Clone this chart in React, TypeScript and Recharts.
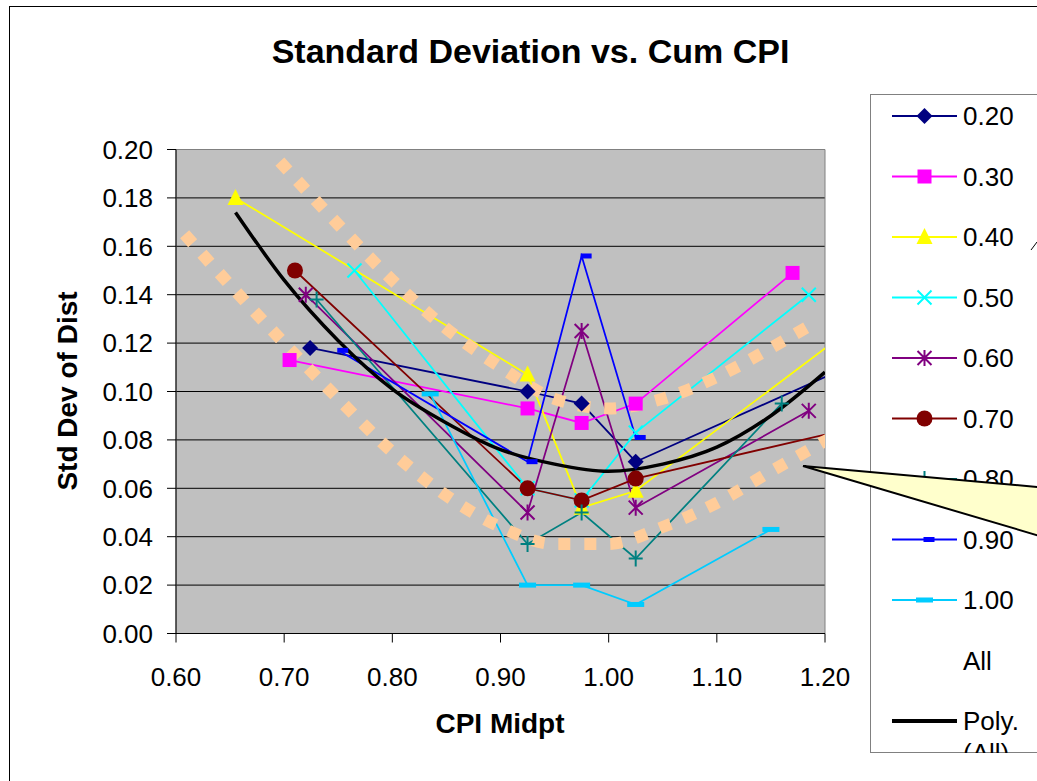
import { CartesianGrid, Line, LineChart, ReferenceArea, XAxis, YAxis } from "recharts";

type MarkerKind =
  | "diamond"
  | "square"
  | "triangle"
  | "cross"
  | "star"
  | "circle"
  | "plus"
  | "dash"
  | "longDash";

type Pt = { x: number; y: number };

const FONT = "'Liberation Sans', Arial, Helvetica, sans-serif";

const xTicks = [0.6, 0.7, 0.8, 0.9, 1.0, 1.1, 1.2];
const yTicks = [0, 0.02, 0.04, 0.06, 0.08, 0.1, 0.12, 0.14, 0.16, 0.18, 0.2];

// cum CPI bin midpoints and std dev of the distribution, one pair per threshold
const cpi020 = [0.724, 0.925, 0.975, 1.025, 1.275];
const dev020 = [0.118, 0.1, 0.095, 0.071, 0.121];

const cpi030 = [0.705, 0.925, 0.975, 1.025, 1.17];
const dev030 = [0.113, 0.093, 0.087, 0.095, 0.149];

const cpi040 = [0.655, 0.925, 0.975, 1.025, 1.275];
const dev040 = [0.18, 0.107, 0.052, 0.059, 0.143];

const cpi050 = [0.765, 0.925, 0.975, 1.025, 1.185];
const dev050 = [0.15, 0.06, 0.055, 0.083, 0.14];

const cpi060 = [0.72, 0.925, 0.975, 1.025, 1.185];
const dev060 = [0.14, 0.05, 0.125, 0.052, 0.092];

const cpi070 = [0.71, 0.925, 0.975, 1.025, 1.275];
const dev070 = [0.15, 0.06, 0.055, 0.064, 0.09];

const cpi080 = [0.73, 0.925, 0.975, 1.025, 1.16];
const dev080 = [0.138, 0.037, 0.05, 0.031, 0.095];

const cpi090 = [0.75, 0.925, 0.975, 1.025];
const dev090 = [0.117, 0.071, 0.156, 0.081];

const cpi100 = [0.835, 0.925, 0.975, 1.025, 1.15];
const dev100 = [0.099, 0.02, 0.02, 0.012, 0.043];

// polynomial trend of "All"
const trendCpi = [0.655, 0.7, 0.75, 0.8, 0.85, 0.9, 0.95, 1.0, 1.05, 1.1, 1.15, 1.2];
const trendDev = [0.174, 0.146, 0.121, 0.101, 0.087, 0.076, 0.07, 0.067, 0.07, 0.077, 0.09, 0.108];

// dotted envelope curves
const upperCpi = [0.696, 0.75, 0.8, 0.85, 0.9, 0.95, 1.0, 1.05, 1.1, 1.15, 1.185];
const upperDev = [0.195, 0.169, 0.146, 0.126, 0.11, 0.097, 0.093, 0.097, 0.106, 0.118, 0.127];

const lowerCpi = [0.608, 0.65, 0.7, 0.75, 0.8, 0.85, 0.9, 0.95, 1.0, 1.05, 1.1, 1.15, 1.21];
const lowerDev = [0.165, 0.144, 0.12, 0.097, 0.075, 0.057, 0.044, 0.037, 0.037, 0.044, 0.054, 0.067, 0.082];

const toPoints = (xs: number[], ys: number[]): Pt[] => xs.map((x, i) => ({ x, y: ys[i] }));

const series: { name: string; color: string; marker: MarkerKind; data: Pt[] }[] = [
  { name: "0.20", color: "#000080", marker: "diamond", data: toPoints(cpi020, dev020) },
  { name: "0.30", color: "#FF00FF", marker: "square", data: toPoints(cpi030, dev030) },
  { name: "0.40", color: "#FFFF00", marker: "triangle", data: toPoints(cpi040, dev040) },
  { name: "0.50", color: "#00FFFF", marker: "cross", data: toPoints(cpi050, dev050) },
  { name: "0.60", color: "#800080", marker: "star", data: toPoints(cpi060, dev060) },
  { name: "0.70", color: "#800000", marker: "circle", data: toPoints(cpi070, dev070) },
  { name: "0.80", color: "#008080", marker: "plus", data: toPoints(cpi080, dev080) },
  { name: "0.90", color: "#0000FF", marker: "dash", data: toPoints(cpi090, dev090) },
  { name: "1.00", color: "#00CCFF", marker: "longDash", data: toPoints(cpi100, dev100) },
];

function Marker({ kind, color, cx, cy }: { kind: MarkerKind; color: string; cx: number; cy: number }) {
  if (cx == null || cy == null) return null;
  switch (kind) {
    case "diamond":
      return <path d={`M${cx} ${cy - 8}L${cx + 8} ${cy}L${cx} ${cy + 8}L${cx - 8} ${cy}Z`} fill={color} />;
    case "square":
      return <rect x={cx - 7} y={cy - 7} width={14} height={14} fill={color} />;
    case "triangle":
      return <path d={`M${cx} ${cy - 9}L${cx + 8} ${cy + 7}L${cx - 8} ${cy + 7}Z`} fill={color} />;
    case "cross":
      return (
        <path
          d={`M${cx - 7} ${cy - 7}L${cx + 7} ${cy + 7}M${cx + 7} ${cy - 7}L${cx - 7} ${cy + 7}`}
          stroke={color}
          strokeWidth={2}
        />
      );
    case "star":
      return (
        <path
          d={`M${cx - 7} ${cy - 7}L${cx + 7} ${cy + 7}M${cx + 7} ${cy - 7}L${cx - 7} ${cy + 7}M${cx} ${cy - 8}L${cx} ${cy + 8}`}
          stroke={color}
          strokeWidth={2}
        />
      );
    case "circle":
      return <circle cx={cx} cy={cy} r={8} fill={color} />;
    case "plus":
      return (
        <path
          d={`M${cx - 7} ${cy}L${cx + 7} ${cy}M${cx} ${cy - 8}L${cx} ${cy + 8}`}
          stroke={color}
          strokeWidth={2}
        />
      );
    case "dash":
      return <rect x={cx - 1} y={cy - 2.5} width={11} height={5} fill={color} />;
    case "longDash":
      return <rect x={cx - 8.5} y={cy - 2.5} width={17} height={5} fill={color} />;
  }
}

const tickStyle = { fontSize: 26, fill: "#000", fontFamily: FONT };

function LegendBox() {
  const rowY = (i: number) => 22 + i * 60.5;
  return (
    <svg
      width={220}
      height={659}
      style={{ position: "absolute", left: 870, top: 94 }}
      fontFamily={FONT}
    >
      <rect x={0.5} y={0.5} width={260} height={658} fill="#fff" stroke="#808080" />
      {series.map((s, i) => (
        <g key={s.name}>
          <line x1={22} x2={87} y1={rowY(i)} y2={rowY(i)} stroke={s.color} strokeWidth={2} />
          <Marker kind={s.marker} color={s.color} cx={54.5} cy={rowY(i)} />
          <text x={93} y={rowY(i) + 9.3} fontSize={26}>
            {s.name}
          </text>
        </g>
      ))}
      <text x={93} y={rowY(9) + 9.3} fontSize={26}>
        All
      </text>
      <line x1={22} x2={87} y1={rowY(10)} y2={rowY(10)} stroke="#000" strokeWidth={4} />
      <text x={93} y={rowY(10) + 9.3} fontSize={26}>
        Poly.
      </text>
      {/* second line of the trend label runs into the box's bottom edge */}
      <text x={93} y={rowY(10) + 40.5} fontSize={26}>
        (All)
      </text>
    </svg>
  );
}

export default function App() {
  return (
    <div
      style={{
        position: "absolute",
        left: 0,
        top: 0,
        width: 1037,
        height: 781,
        overflow: "hidden",
        background: "#fff",
        fontFamily: FONT,
      }}
    >
      <div
        style={{
          position: "absolute",
          left: 9,
          top: 6,
          width: 1200,
          height: 900,
          border: "1px solid #000",
        }}
      />

      <div style={{ position: "absolute", left: 0, top: 0 }}>
        <LineChart
          width={1037}
          height={781}
          margin={{ top: 149.5, right: 212, bottom: 107.5, left: 116 }}
        >
          <CartesianGrid vertical={false} stroke="#000" fill="#C0C0C0" fillOpacity={1} />
          <ReferenceArea x1={0.6} x2={1.2} y1={0} y2={0.2} fill="none" stroke="#808080" />
          <XAxis
            dataKey="x"
            type="number"
            domain={[0.6, 1.2]}
            ticks={xTicks}
            interval={0}
            allowDataOverflow
            tickFormatter={(v: number) => v.toFixed(2)}
            tick={tickStyle}
            tickSize={9}
            tickMargin={25}
            axisLine={{ stroke: "#000" }}
            tickLine={{ stroke: "#000" }}
            height={40}
          />
          <YAxis
            type="number"
            domain={[0, 0.2]}
            ticks={yTicks}
            interval={0}
            allowDataOverflow
            tickFormatter={(v: number) => v.toFixed(2)}
            tick={tickStyle}
            tickSize={9}
            tickMargin={14}
            axisLine={{ stroke: "#000" }}
            tickLine={{ stroke: "#000" }}
            width={60}
          />
          {series.map((s) => (
            <Line
              key={s.name}
              data={s.data}
              dataKey="y"
              name={s.name}
              type="linear"
              stroke={s.color}
              strokeWidth={1.75}
              isAnimationActive={false}
              activeDot={false}
              dot={(p: any) => (
                <Marker key={`${s.name}-${p.index}`} kind={s.marker} color={s.color} cx={p.cx} cy={p.cy} />
              )}
            />
          ))}
          <Line
            data={toPoints(upperCpi, upperDev)}
            dataKey="y"
            type="monotone"
            stroke="#FFCC99"
            strokeWidth={12}
            strokeDasharray="12 14"
            dot={false}
            activeDot={false}
            isAnimationActive={false}
          />
          <Line
            data={toPoints(lowerCpi, lowerDev)}
            dataKey="y"
            type="monotone"
            stroke="#FFCC99"
            strokeWidth={12}
            strokeDasharray="12 14"
            dot={false}
            activeDot={false}
            isAnimationActive={false}
          />
          <Line
            data={toPoints(trendCpi, trendDev)}
            dataKey="y"
            type="monotone"
            stroke="#000"
            strokeWidth={3.5}
            dot={false}
            activeDot={false}
            isAnimationActive={false}
          />
        </LineChart>
      </div>

      <svg
        width={1037}
        height={781}
        style={{ position: "absolute", left: 0, top: 0, pointerEvents: "none" }}
        fontFamily={FONT}
      >
        <text x={530.5} y={63} fontSize={34} fontWeight="bold" textAnchor="middle">
          Standard Deviation vs. Cum CPI
        </text>
        <text
          x={77}
          y={391}
          fontSize={28}
          fontWeight="bold"
          textAnchor="middle"
          transform="rotate(-90 77 391)"
        >
          Std Dev of Dist
        </text>
        <text x={500} y={733} fontSize={28} fontWeight="bold" textAnchor="middle">
          CPI Midpt
        </text>
      </svg>

      <LegendBox />

      {/* callout pointing at the lower envelope */}
      <svg
        width={1037}
        height={781}
        style={{ position: "absolute", left: 0, top: 0, pointerEvents: "none" }}
      >
        <polygon
          points="803,466 1060,489 1060,542"
          fill="#FFFFCC"
          stroke="#000"
          strokeWidth={2}
          strokeLinejoin="miter"
        />
        <line x1={1031} y1={250} x2={1037} y2={242} stroke="#000" strokeWidth={1} />
      </svg>
    </div>
  );
}
